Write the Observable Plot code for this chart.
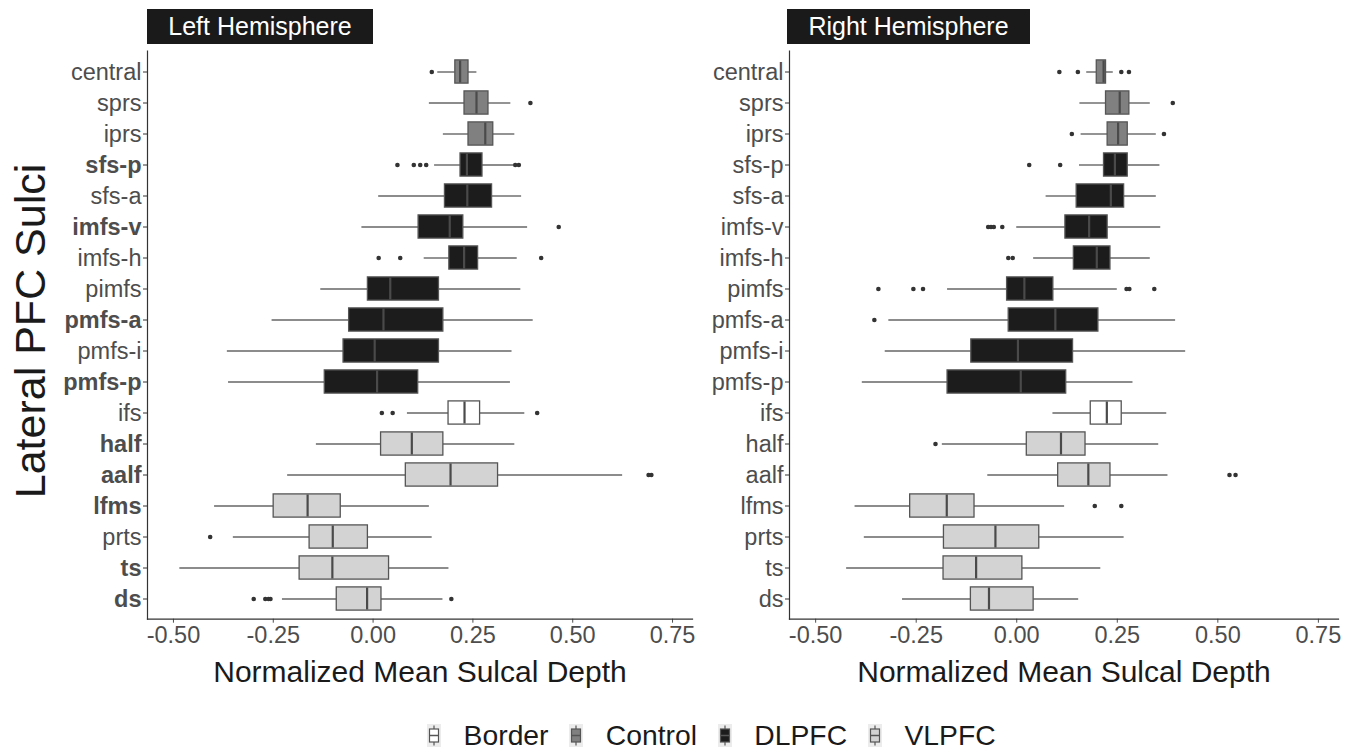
<!DOCTYPE html>
<html><head><meta charset="utf-8">
<script src="https://cdn.jsdelivr.net/npm/d3@7"></script>
<script src="https://cdn.jsdelivr.net/npm/@observablehq/plot@0.6"></script>
<style>
body{margin:0;background:#fff;font-family:"Liberation Sans",Arial,sans-serif;}
#root{position:relative;width:1357px;height:750px;overflow:hidden;background:#fff;}
.abs{position:absolute;}
.strip{position:absolute;background:#1a1a1a;color:#fff;font-size:25px;display:flex;align-items:center;justify-content:center;height:35px;top:9px;}
.xtitle{position:absolute;top:655px;font-size:30px;color:#1a1a1a;text-align:center;white-space:nowrap;}
#legend{position:absolute;left:427px;top:723px;height:24px;display:flex;align-items:center;font-size:28.3px;line-height:24px;color:#1a1a1a;}
.item{display:flex;align-items:center;margin-right:20.7px;}
.item svg{margin-right:22.6px;display:block;}
</style></head><body><div id="root"></div>
<script>
// ---------- data ----------
const sulci = ["central","sprs","iprs","sfs-p","sfs-a","imfs-v","imfs-h","pimfs","pmfs-a","pmfs-i","pmfs-p","ifs","half","aalf","lfms","prts","ts","ds"];
const groups = ["Control","Control","Control","DLPFC","DLPFC","DLPFC","DLPFC","DLPFC","DLPFC","DLPFC","DLPFC","Border","VLPFC","VLPFC","VLPFC","VLPFC","VLPFC","VLPFC"];
const groupNames = ["Border","Control","DLPFC","VLPFC"];
const groupFills = ["#ffffff","#808080","#1c1c1c","#d3d3d3"];
const boldLeft = ["sfs-p","imfs-v","pmfs-a","pmfs-p","half","aalf","lfms","ts","ds"];
const xTicks = [-0.5,-0.25,0,0.25,0.5,0.75];

// Left hemisphere box stats
const leftLo  = [0.162,0.141,0.176,0.154,0.014,-0.028,0.128,-0.131,-0.253,-0.365,-0.362,0.086,-0.142,-0.214,-0.397,-0.350,-0.484,-0.227];
const leftQ1  = [0.206,0.229,0.239,0.219,0.180,0.114,0.191,-0.013,-0.060,-0.074,-0.121,0.189,0.020,0.082,-0.249,-0.159,-0.184,-0.091];
const leftMed = [0.218,0.259,0.281,0.235,0.236,0.192,0.228,0.043,0.026,0.004,0.010,0.229,0.097,0.194,-0.164,-0.101,-0.102,-0.015];
const leftQ3  = [0.239,0.289,0.301,0.274,0.298,0.226,0.263,0.165,0.176,0.165,0.113,0.268,0.176,0.313,-0.081,-0.013,0.040,0.021];
const leftHi  = [0.260,0.345,0.355,0.352,0.372,0.387,0.361,0.370,0.401,0.348,0.344,0.380,0.355,0.625,0.141,0.148,0.190,0.175];
const leftOutSulcus = ["central","sprs","sfs-p","sfs-p","sfs-p","sfs-p","sfs-p","sfs-p","imfs-v","imfs-h","imfs-h","imfs-h","ifs","ifs","ifs","aalf","aalf","prts","ds","ds","ds","ds","ds"];
const leftOutValue  = [0.147,0.394,0.061,0.102,0.118,0.133,0.356,0.365,0.465,0.014,0.068,0.421,0.022,0.049,0.411,0.690,0.697,-0.408,-0.299,-0.270,-0.262,-0.257,0.196];

// Right hemisphere box stats
const rightLo  = [0.174,0.157,0.160,0.156,0.073,0.000,0.042,-0.172,-0.318,-0.327,-0.384,0.090,-0.185,-0.072,-0.402,-0.379,-0.423,-0.284];
const rightQ1  = [0.199,0.222,0.226,0.217,0.149,0.121,0.142,-0.024,-0.020,-0.113,-0.172,0.184,0.025,0.103,-0.265,-0.181,-0.182,-0.114];
const rightMed = [0.216,0.256,0.252,0.244,0.234,0.180,0.199,0.019,0.096,0.003,0.010,0.224,0.110,0.178,-0.174,-0.053,-0.101,-0.069];
const rightQ3  = [0.222,0.280,0.276,0.276,0.267,0.226,0.233,0.091,0.203,0.140,0.123,0.261,0.171,0.233,-0.105,0.056,0.014,0.042];
const rightHi  = [0.240,0.332,0.347,0.356,0.347,0.358,0.332,0.250,0.395,0.420,0.289,0.373,0.353,0.376,0.119,0.267,0.209,0.154];
const rightOutSulcus = ["central","central","central","central","sprs","iprs","iprs","sfs-p","sfs-p","imfs-v","imfs-v","imfs-v","imfs-v","imfs-h","imfs-h","pimfs","pimfs","pimfs","pimfs","pimfs","pimfs","pmfs-a","half","aalf","aalf","lfms","lfms"];
const rightOutValue  = [0.106,0.152,0.260,0.279,0.388,0.137,0.366,0.031,0.108,-0.071,-0.064,-0.057,-0.036,-0.021,-0.010,-0.344,-0.257,-0.233,0.273,0.280,0.342,-0.354,-0.202,0.529,0.544,0.194,0.260];

// ---------- drawing ----------
const FONT = "Liberation Sans, Arial, sans-serif";
const H = 660, TOP = 50.6, BOTTOM = 618.7;
const root = document.getElementById("root");

function panel({lo, q1, med, q3, hi, outS, outV, bold, left, width, marginLeft, marginRight}) {
  const rows = sulci.map((s, i) => ({sulcus: s, group: groups[i], lo: lo[i], q1: q1[i], med: med[i], q3: q3[i], hi: hi[i]}));
  const outs = outS.map((s, i) => ({sulcus: s, value: outV[i]}));
  const normal = sulci.filter(s => !bold.includes(s));
  const boldL = sulci.filter(s => bold.includes(s));
  const inset = 3.9;
  const chart = Plot.plot({
    width, height: H,
    marginTop: TOP, marginBottom: H - BOTTOM, marginLeft, marginRight,
    style: {fontFamily: FONT, background: "transparent", overflow: "visible"},
    x: {domain: [-0.565, 0.80]},
    y: {type: "band", domain: sulci, paddingInner: 0, paddingOuter: 0.1},
    color: {domain: groupNames, range: groupFills},
    marks: [
      Plot.ruleY(rows, {y: "sulcus", x1: "lo", x2: "q1", stroke: "#666", strokeWidth: 1.4}),
      Plot.ruleY(rows, {y: "sulcus", x1: "q3", x2: "hi", stroke: "#666", strokeWidth: 1.4}),
      Plot.barX(rows, {y: "sulcus", x1: "q1", x2: "q3", fill: "group", stroke: "#555", strokeWidth: 1.3, insetTop: inset, insetBottom: inset}),
      Plot.tickX(rows, {y: "sulcus", x: "med", stroke: "#4a4a4a", strokeWidth: 2.2, insetTop: inset + 0.6, insetBottom: inset + 0.6}),
      Plot.dot(outs, {x: "value", y: "sulcus", r: 2.3, fill: "#333", stroke: null}),
      Plot.axisX({ticks: xTicks, tickFormat: d => d.toFixed(2), tickSize: 4, tickPadding: 3, fontSize: 23.5, color: "#4d4d4d", label: null}),
      Plot.axisY({tickSize: 4, tickFormat: () => "", label: null, color: "#333"}),
      Plot.text(normal, {y: d => d, text: d => d, frameAnchor: "left", textAnchor: "end", dx: -6, fontSize: 23.5, fill: "#4d4d4d"}),
      Plot.text(boldL, {y: d => d, text: d => d, frameAnchor: "left", textAnchor: "end", dx: -6, fontSize: 23.5, fontWeight: "bold", fill: "#4d4d4d"}),
      Plot.frame({anchor: "left", stroke: "#333", strokeWidth: 1.2}),
      Plot.frame({anchor: "bottom", stroke: "#333", strokeWidth: 1.2})
    ]
  });
  const wrap = document.createElement("div");
  wrap.className = "abs";
  wrap.style.left = left + "px";
  wrap.style.top = "0px";
  wrap.appendChild(chart);
  root.appendChild(wrap);
}

panel({lo: leftLo, q1: leftQ1, med: leftMed, q3: leftQ3, hi: leftHi, outS: leftOutSulcus, outV: leftOutValue,
       bold: boldLeft, left: 0, width: 700, marginLeft: 147, marginRight: 8});
panel({lo: rightLo, q1: rightQ1, med: rightMed, q3: rightQ3, hi: rightHi, outS: rightOutSulcus, outV: rightOutValue,
       bold: [], left: 700, width: 657, marginLeft: 89, marginRight: 19});

// strips
function strip(text, left, width) {
  const d = document.createElement("div");
  d.className = "strip";
  d.style.left = left + "px";
  d.style.width = width + "px";
  d.textContent = text;
  root.appendChild(d);
}
strip("Left Hemisphere", 147, 226);
strip("Right Hemisphere", 787, 243);

// axis titles
function xtitle(text, center) {
  const d = document.createElement("div");
  d.className = "xtitle";
  d.style.left = (center - 300) + "px";
  d.style.width = "600px";
  d.textContent = text;
  root.appendChild(d);
}
xtitle("Normalized Mean Sulcal Depth", 420);
xtitle("Normalized Mean Sulcal Depth", 1064);

const yt = document.createElement("div");
yt.className = "abs";
yt.style.cssText = "position:absolute;left:30px;top:331px;font-size:43px;color:#1a1a1a;white-space:nowrap;transform:translate(-50%,-50%) rotate(-90deg);";
yt.textContent = "Lateral PFC Sulci";
root.appendChild(yt);

// legend
const legend = document.createElement("div");
legend.id = "legend";
groupNames.forEach((g, i) => {
  const item = document.createElement("div");
  item.className = "item";
  const svg = d3.create("svg").attr("width", 14).attr("height", 23);
  svg.append("rect").attr("width", 14).attr("height", 23).attr("fill", "#ececec");
  svg.append("line").attr("x1", 7).attr("x2", 7).attr("y1", 1.5).attr("y2", 21.5).attr("stroke", "#555").attr("stroke-width", 1.2);
  svg.append("rect").attr("x", 2.5).attr("y", 5).attr("width", 9).attr("height", 13).attr("fill", groupFills[i]).attr("stroke", "#555").attr("stroke-width", 1.2);
  svg.append("line").attr("x1", 2.5).attr("x2", 11.5).attr("y1", 11.5).attr("y2", 11.5).attr("stroke", "#555").attr("stroke-width", 1.5);
  item.appendChild(svg.node());
  const t = document.createElement("span");
  t.textContent = g;
  item.appendChild(t);
  legend.appendChild(item);
});
root.appendChild(legend);
</script>
</body></html>
